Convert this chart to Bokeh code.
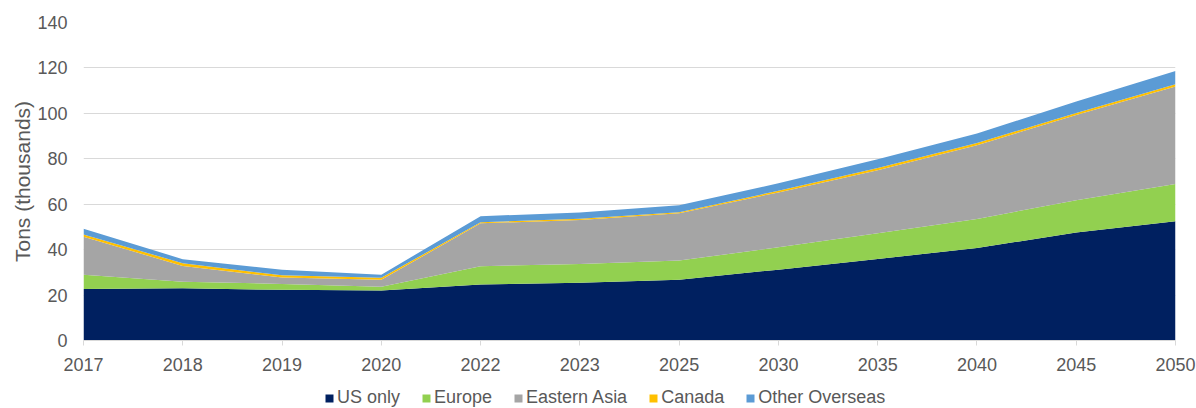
from bokeh.plotting import figure
from bokeh.layouts import column
from bokeh.models import (ColumnDataSource, Range1d, FixedTicker, Legend, LegendItem)
from bokeh.embed import file_html
from bokeh.resources import INLINE

years = ["2017", "2018", "2019", "2020", "2022", "2023", "2025", "2030", "2035", "2040", "2045", "2050"]
us_only = [22.7, 23.0, 22.3, 22.0, 24.6, 25.4, 26.8, 31.2, 35.9, 40.7, 47.6, 52.5]
europe = [6.3, 2.9, 2.6, 1.7, 8.1, 8.3, 8.4, 9.8, 11.3, 12.8, 14.2, 16.4]
eastern_asia = [16.7, 6.9, 2.8, 3.0, 18.9, 19.3, 20.8, 24.2, 27.8, 32.5, 37.5, 42.9]
canada = [1.0, 1.2, 1.0, 0.9, 0.5, 0.6, 0.5, 0.7, 0.9, 0.9, 0.9, 1.0]
other_overseas = [2.5, 1.8, 2.4, 1.4, 2.6, 2.8, 3.0, 3.3, 3.9, 4.2, 5.0, 5.9]
series_names = ["US only", "Europe", "Eastern Asia", "Canada", "Other Overseas"]
y_ticks = [0, 20, 40, 60, 80, 100, 120, 140]

colors = ["#002060", "#92D050", "#A5A5A5", "#FFC000", "#5B9BD5"]
FONT = "Liberation Sans"
TXT = "#595959"
GRID = "#D9D9D9"
STACK = ["us", "eu", "asia", "ca", "oth"]

idx = list(range(len(years)))
source = ColumnDataSource(dict(
    x=idx, us=us_only, eu=europe, asia=eastern_asia, ca=canada, oth=other_overseas))

# ---- main chart ----
p = figure(width=1196, height=380, output_backend="svg", toolbar_location=None,
           x_range=Range1d(0, len(years) - 1), y_range=Range1d(0, 140),
           min_border_left=83, min_border_right=21, min_border_top=22,
           min_border_bottom=40)
p.outline_line_color = None
p.background_fill_color = "white"
p.border_fill_color = "white"

p.varea_stack(stackers=STACK, x="x", color=colors, source=source)

p.xaxis.ticker = FixedTicker(ticks=idx)
p.xaxis.major_label_overrides = {i: y for i, y in enumerate(years)}
p.xaxis.axis_line_color = GRID
p.xaxis.axis_line_width = 1
p.xaxis.major_tick_line_color = GRID
p.xaxis.major_tick_out = 5
p.xaxis.major_tick_in = 0
p.xaxis.minor_tick_line_color = None
p.xaxis.major_label_standoff = 12

p.yaxis.ticker = FixedTicker(ticks=y_ticks)
p.yaxis.axis_line_color = None
p.yaxis.major_tick_line_color = None
p.yaxis.minor_tick_line_color = None
p.yaxis.major_label_standoff = 10
p.yaxis.axis_label = "Tons (thousands)"
p.yaxis.axis_label_standoff = 0

for ax in (p.xaxis, p.yaxis):
    ax.major_label_text_font = FONT
    ax.major_label_text_font_size = "18px"
    ax.major_label_text_color = TXT
    ax.axis_label_text_font = FONT
    ax.axis_label_text_font_size = "21px"
    ax.axis_label_text_font_style = "normal"
    ax.axis_label_text_color = TXT

p.xgrid.grid_line_color = None
p.ygrid.grid_line_color = GRID
p.ygrid.grid_line_width = 1
p.ygrid.ticker = FixedTicker(ticks=y_ticks)

# ---- legend strip ----
lg = figure(width=1196, height=28, output_backend="svg", toolbar_location=None,
            x_range=Range1d(100, 101), y_range=Range1d(1000, 1001),
            x_axis_location=None, y_axis_location=None,
            min_border=0, min_border_left=0, min_border_right=0,
            min_border_top=0, min_border_bottom=0)
lg.outline_line_color = None
lg.xgrid.grid_line_color = None
lg.ygrid.grid_line_color = None
lg.background_fill_color = "white"
lg.border_fill_color = "white"
lrs = lg.varea_stack(stackers=STACK, x="x", color=colors, source=source)

items = [LegendItem(label=n, renderers=[r]) for n, r in zip(series_names, lrs)]
legend = Legend(items=items, orientation="horizontal", location=(241, 0),
                label_text_font=FONT, label_text_font_size="18px",
                label_text_color=TXT, glyph_width=10, glyph_height=10,
                label_standoff=3, spacing=21, padding=0, margin=0,
                border_line_color=None, background_fill_alpha=0)
lg.add_layout(legend, "center")

layout = column(p, lg, spacing=0)
open("out.html", "w").write(file_html(layout, INLINE))
